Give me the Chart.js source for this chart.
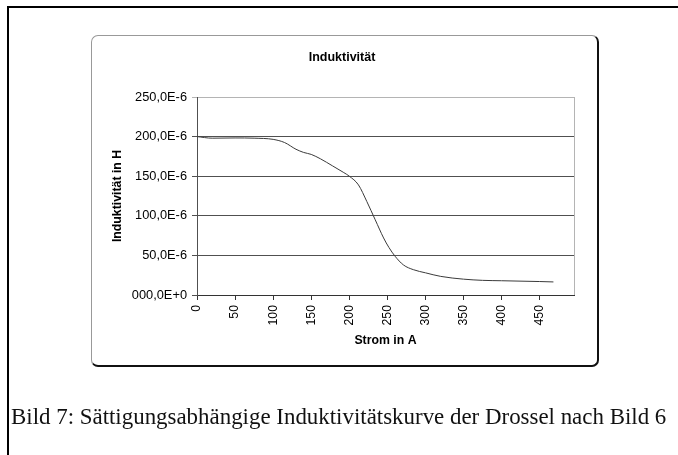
<!DOCTYPE html>
<html>
<head>
<meta charset="utf-8">
<script src="https://cdn.jsdelivr.net/npm/chart.js@4"></script>
<style>
  html, body { margin:0; padding:0; background:#fff; overflow:hidden; }
  #page { position:relative; width:678px; height:455px; overflow:hidden; }
  #topLine { position:absolute; left:7px; top:6px; width:671px; height:2px; background:#000; }
  #leftLine { position:absolute; left:7px; top:6px; width:2px; height:449px; background:#000; }
  #box { position:absolute; left:91px; top:35px; width:505px; height:329px; border-top:1px solid #999; border-left:1px solid #999; border-right:2px solid #111; border-bottom:2px solid #111; border-radius:7px; }
  #wrap { position:absolute; left:0; top:0; width:678px; height:455px; }
  #caption { position:absolute; left:11px; top:404px; font-family:"Liberation Serif", "Times New Roman", serif; font-size:22.9px; color:#111; white-space:nowrap; }
</style>
</head>
<body>
<div id="page">
  <div id="topLine"></div>
  <div id="leftLine"></div>
  <div id="box"></div>
  <div id="wrap"><canvas id="chart" width="678" height="455"></canvas></div>
  <div id="caption">Bild 7: Sättigungsabhängige Induktivitätskurve der Drossel nach Bild 6</div>
</div>
<script>
// Strom in A
const current = [0, 20, 50, 75, 100, 115, 130, 140, 150, 162, 178, 192, 200, 212, 223, 234, 245, 252, 260, 271, 284, 300, 320, 350, 375, 400, 450, 468];
// Induktivität in µH
const inductance = [200, 198, 198.3, 198, 196.5, 192.5, 184, 180, 177.5, 172, 163, 155, 150, 139, 118, 95, 72, 60, 49, 38, 32, 28, 23.5, 20, 18.5, 18, 17, 16.5];
const yTicks = [0, 50, 100, 150, 200, 250];
const yTickLabels = ['000,0E+0', '50,0E-6', '100,0E-6', '150,0E-6', '200,0E-6', '250,0E-6'];
const xTicks = [0, 50, 100, 150, 200, 250, 300, 350, 400, 450];

const font = "'Liberation Sans', Arial, sans-serif";

// fit caption to the reference width
const cap = document.getElementById('caption');
const capW = cap.getBoundingClientRect().width;
cap.style.fontSize = (22.9 * 655 / capW).toFixed(2) + 'px';

const rightBorder = {
  id: 'rightBorder',
  beforeDatasetsDraw(chart) {
    const a = chart.chartArea, c = chart.ctx;
    c.save();
    c.strokeStyle = '#b4b4b4';
    c.lineWidth = 1;
    c.beginPath();
    c.moveTo(Math.round(a.right) + 0.5, a.top);
    c.lineTo(Math.round(a.right) + 0.5, a.bottom);
    c.stroke();
    c.restore();
  }
};

new Chart(document.getElementById('chart'), {
  type: 'line',
  data: {
    datasets: [{
      data: current.map((x, i) => ({ x: x, y: inductance[i] })),
      borderColor: '#3a3a3a',
      borderWidth: 1,
      pointRadius: 0,
      cubicInterpolationMode: 'monotone',
      fill: false
    }]
  },
  options: {
    responsive: false,
    animation: false,
    layout: { padding: { left: 110, right: 104, top: 50, bottom: 107 } },
    plugins: {
      legend: { display: false },
      tooltip: { enabled: false },
      title: {
        display: true,
        text: 'Induktivität',
        color: '#000',
        font: { family: font, size: 12.5, weight: 'bold' },
        padding: { top: 0, bottom: 32 }
      }
    },
    scales: {
      x: {
        type: 'linear',
        min: 0,
        max: 495,
        afterBuildTicks: s => { s.ticks = xTicks.map(v => ({ value: v })); },
        afterFit: s => { s.height = 53; },
        ticks: {
          color: '#000',
          font: { family: font, size: 12.3 },
          minRotation: 90,
          maxRotation: 90,
          padding: 5,
          autoSkip: false
        },
        grid: { drawOnChartArea: false, tickLength: 5, color: '#333' },
        border: { color: '#333', width: 1 },
        title: {
          display: true,
          text: 'Strom in A',
          color: '#000',
          font: { family: font, size: 12.3, weight: 'bold' },
          padding: 0
        }
      },
      y: {
        min: 0,
        max: 250,
        afterBuildTicks: s => { s.ticks = yTicks.map(v => ({ value: v })); },
        afterFit: s => { s.width = 87; },
        ticks: {
          color: '#000',
          font: { family: font, size: 12.8 },
          padding: 5,
          callback: (v) => yTickLabels[yTicks.indexOf(v)]
        },
        grid: {
          tickLength: 5,
          color: ctx => (ctx.tick && ctx.tick.value === 250) ? '#b4b4b4' : '#505050'
        },
        border: { color: '#505050', width: 1 },
        title: {
          display: true,
          text: 'Induktivität in H',
          color: '#000',
          font: { family: font, size: 12.3, weight: 'bold' },
          padding: 0
        }
      }
    }
  },
  plugins: [rightBorder]
});
</script>
</body>
</html>
